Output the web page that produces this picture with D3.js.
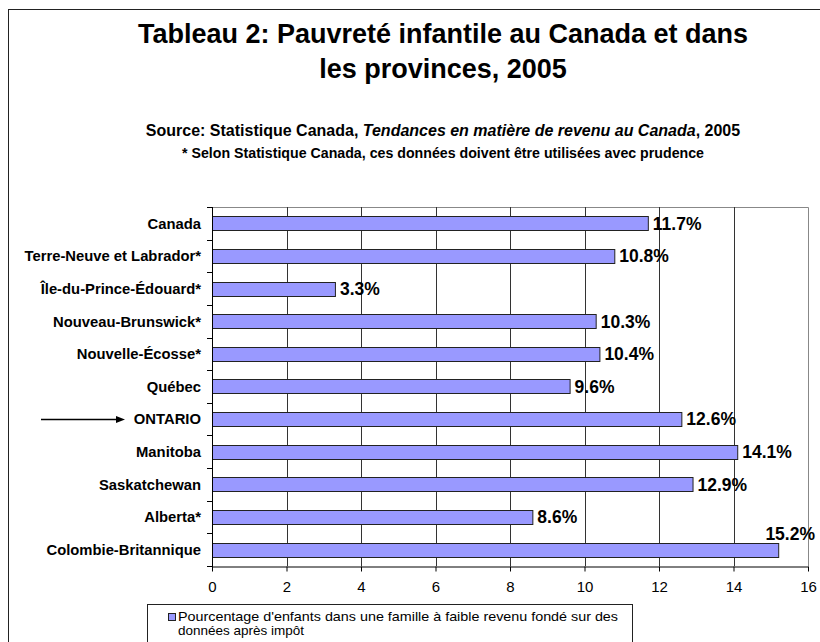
<!DOCTYPE html>
<html>
<head>
<meta charset="utf-8">
<script src="https://cdn.jsdelivr.net/npm/d3@7"></script>
<style>
  body { margin: 0; background: #fff; }
  svg { display: block; font-family: "Liberation Sans", Arial, sans-serif; }
</style>
</head>
<body>
<svg id="chart" width="820" height="642"></svg>
<script>
// data
var provinces = ["Canada", "Terre-Neuve et Labrador*", "Île-du-Prince-Édouard*",
  "Nouveau-Brunswick*", "Nouvelle-Écosse*", "Québec", "ONTARIO", "Manitoba",
  "Saskatchewan", "Alberta*", "Colombie-Britannique"];
var pauvrete = [11.7, 10.8, 3.3, 10.3, 10.4, 9.6, 12.6, 14.1, 12.9, 8.6, 15.2];
var xTicks = [0, 2, 4, 6, 8, 10, 12, 14, 16];
var titleLines = ["Tableau 2: Pauvreté infantile au Canada et dans", "les provinces, 2005"];
var legendLines = ["Pourcentage d'enfants dans une famille à faible revenu fondé sur des",
  "données après impôt"];

var data = provinces.map(function(p, i) { return {name: p, value: pauvrete[i]}; });

var svg = d3.select("#chart"),
    cx = 443; // centre of the whole chart object

// outer border of the chart object (runs past the window right & bottom)
svg.append("rect")
    .attr("x", 8.5).attr("y", 9.5)
    .attr("width", 900).attr("height", 700)
    .attr("fill", "none").attr("stroke", "#222").attr("stroke-width", 1);

// titles
svg.selectAll(".title")
    .data(titleLines)
  .enter().append("text")
    .attr("class", "title")
    .attr("x", cx)
    .attr("y", function(d, i) { return 43 + i * 35; })
    .attr("text-anchor", "middle")
    .style("font-size", "27px")
    .style("font-weight", "bold")
    .text(function(d) { return d; });

var src = svg.append("text")
    .attr("x", cx).attr("y", 136)
    .attr("text-anchor", "middle")
    .style("font-size", "16px")
    .style("font-weight", "bold");
src.append("tspan").text("Source: Statistique Canada, ");
src.append("tspan").style("font-style", "italic").text("Tendances en matière de revenu au Canada");
src.append("tspan").text(", 2005");

svg.append("text")
    .attr("x", cx).attr("y", 158)
    .attr("text-anchor", "middle")
    .style("font-size", "14.2px")
    .style("font-weight", "bold")
    .text("* Selon Statistique Canada, ces données doivent être utilisées avec prudence");

// plot area
var pLeft = 212, pRight = 808, pTop = 207, pBottom = 566;

var x = d3.scaleLinear().domain([0, 16]).range([pLeft, pRight]);
var y = d3.scaleBand()
    .domain(provinces)
    .range([pTop, pBottom])
    .paddingInner(0.57)
    .paddingOuter(0.285);

// plot border (top / right)
svg.append("path")
    .attr("d", "M" + pLeft + "," + (pTop + 0.5) + "H" + (pRight + 0.5) + "V" + pBottom)
    .attr("fill", "none").attr("stroke", "#888");

// vertical gridlines
svg.selectAll(".grid")
    .data(xTicks.filter(function(t) { return t > 0 && t < 16; }))
  .enter().append("line")
    .attr("class", "grid")
    .attr("x1", function(d) { return Math.round(x(d)) + 0.5; })
    .attr("x2", function(d) { return Math.round(x(d)) + 0.5; })
    .attr("y1", pTop).attr("y2", pBottom)
    .attr("stroke", "#333");

// bars
svg.selectAll(".bar")
    .data(data)
  .enter().append("rect")
    .attr("class", "bar")
    .attr("x", pLeft + 0.5)
    .attr("y", function(d) { return Math.round(y(d.name)) + 0.5; })
    .attr("width", function(d) { return x(d.value) - pLeft; })
    .attr("height", Math.round(y.bandwidth()))
    .attr("fill", "#9999ff")
    .attr("stroke", "#222");

// value labels (the one that would run off the right goes above its bar)
function tooLong(d) { return x(d.value) > 770; }
svg.selectAll(".val")
    .data(data)
  .enter().append("text")
    .attr("class", "val")
    .attr("x", function(d) { return tooLong(d) ? 815 : x(d.value) + 5; })
    .attr("y", function(d) {
      return tooLong(d) ? y(d.name) - 3 : y(d.name) + y.bandwidth() / 2;
    })
    .attr("dy", function(d) { return tooLong(d) ? 0 : "0.36em"; })
    .attr("text-anchor", function(d) { return tooLong(d) ? "end" : "start"; })
    .style("font-size", "17.5px")
    .style("font-weight", "bold")
    .text(function(d) { return d.value.toFixed(1) + "%"; });

// y axis: line + ticks at band boundaries
var yAxis = svg.append("g");
yAxis.append("line")
    .attr("x1", pLeft + 0.5).attr("x2", pLeft + 0.5)
    .attr("y1", pTop).attr("y2", pBottom + 5)
    .attr("stroke", "#000");
yAxis.selectAll(".ytick")
    .data(d3.range(provinces.length + 1))
  .enter().append("line")
    .attr("x1", pLeft - 5).attr("x2", pLeft)
    .attr("y1", function(i) { return Math.round(pTop + i * y.step()) + 0.5; })
    .attr("y2", function(i) { return Math.round(pTop + i * y.step()) + 0.5; })
    .attr("stroke", "#000");
yAxis.selectAll(".ylab")
    .data(provinces)
  .enter().append("text")
    .attr("x", 201)
    .attr("y", function(d) { return y(d) + y.bandwidth() / 2; })
    .attr("dy", "0.36em")
    .attr("text-anchor", "end")
    .style("font-size", "14.8px")
    .style("font-weight", "bold")
    .text(function(d) { return d; });

// x axis
var xAxis = svg.append("g")
    .attr("transform", "translate(0," + (Math.round(pBottom) + 0.5) + ")")
    .call(d3.axisBottom(x).tickValues(xTicks).tickSize(5).tickSizeOuter(0).tickPadding(10));
xAxis.select(".domain").attr("stroke", "#000");
xAxis.selectAll(".tick line").attr("stroke", "#000");
xAxis.selectAll(".tick text")
    .style("font-family", "'Liberation Sans', Arial, sans-serif")
    .style("font-size", "15px")
    .attr("fill", "#000");

// arrow pointing at Ontario
var ay = Math.round(y("ONTARIO") + y.bandwidth() / 2) + 0.5;
svg.append("line")
    .attr("x1", 41).attr("x2", 118)
    .attr("y1", ay).attr("y2", ay)
    .attr("stroke", "#000").attr("stroke-width", 1.5);
svg.append("path")
    .attr("d", "M" + 125 + "," + ay + "L" + 116 + "," + (ay - 3.5) + "L" + 116 + "," + (ay + 3.5) + "Z")
    .attr("fill", "#000");

// legend
var lg = svg.append("g");
lg.append("rect")
    .attr("x", 147.5).attr("y", 604.5)
    .attr("width", 485).attr("height", 60)
    .attr("fill", "#fff").attr("stroke", "#222");
lg.append("rect")
    .attr("x", 168.5).attr("y", 613.5)
    .attr("width", 7).attr("height", 7)
    .attr("fill", "#9999ff").attr("stroke", "#222");
lg.selectAll(".leg")
    .data(legendLines)
  .enter().append("text")
    .attr("x", 178)
    .attr("y", function(d, i) { return 621 + i * 13.5; })
    .style("font-size", "13px")
    .attr("textLength", function(d, i) { return i === 0 ? 440 : 126; })
    .attr("lengthAdjust", "spacingAndGlyphs")
    .text(function(d) { return d; });
</script>
</body>
</html>
